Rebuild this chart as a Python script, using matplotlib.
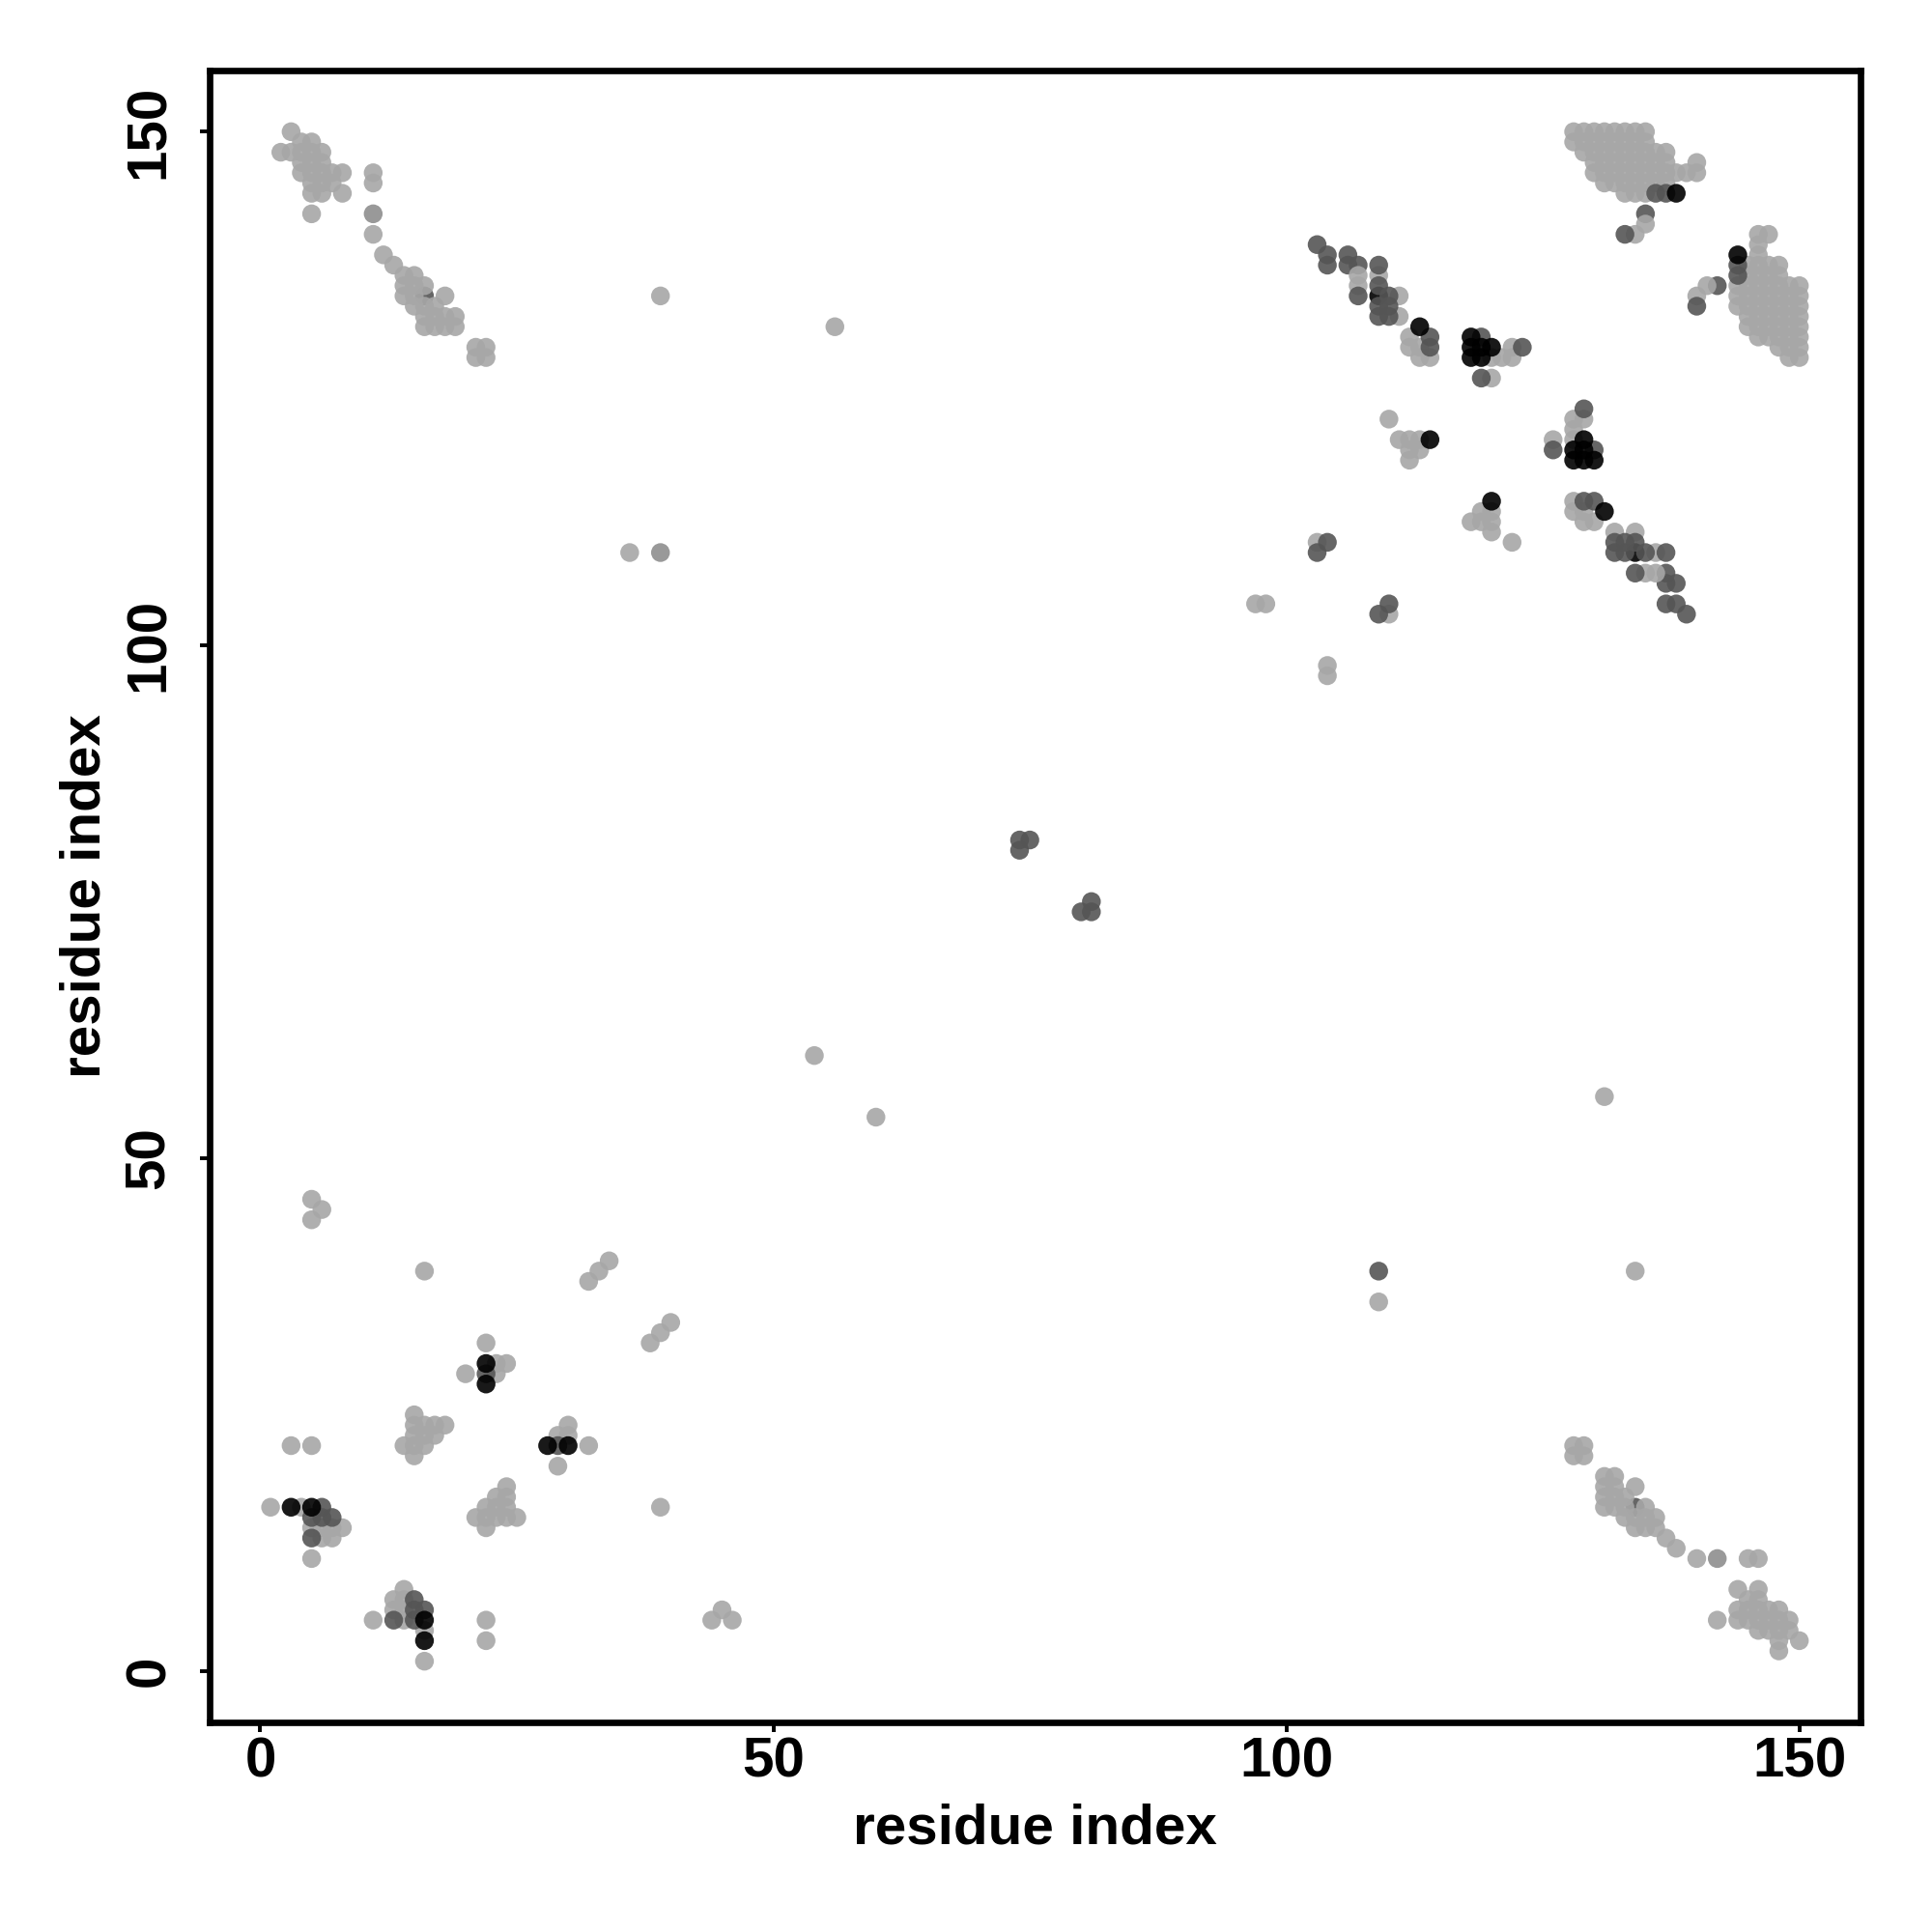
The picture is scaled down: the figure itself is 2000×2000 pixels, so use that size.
import matplotlib.pyplot as plt

# contact pairs (i < j): drawn at (i, j) above the diagonal and mirrored at (j, i)
# shade codes: L light grey, G mid-light grey, M dark grey, B black
top_left = [
    (3, 150, 'L'), (4, 149, 'L'), (5, 149, 'L'), (2, 148, 'L'), (3, 148, 'L'), (4, 148, 'L'),
    (5, 148, 'L'), (6, 148, 'L'), (4, 147, 'L'), (5, 147, 'L'), (6, 147, 'L'), (4, 146, 'L'),
    (5, 146, 'L'), (6, 146, 'L'), (7, 146, 'L'), (8, 146, 'L'), (5, 145, 'L'), (6, 145, 'L'),
    (7, 145, 'L'), (5, 144, 'L'), (6, 144, 'L'), (8, 144, 'L'), (5, 142, 'L'),
    (11, 146, 'L'), (11, 145, 'L'), (11, 142, 'G'), (11, 140, 'L'),
    (16, 134, 'M'), (12, 138, 'L'), (13, 137, 'L'), (14, 136, 'L'), (15, 136, 'L'), (14, 135, 'L'),
    (15, 135, 'L'), (16, 135, 'L'), (14, 134, 'L'), (15, 134, 'L'), (18, 134, 'L'), (15, 133, 'L'),
    (16, 133, 'L'), (17, 133, 'L'), (16, 132, 'L'), (17, 132, 'L'), (18, 132, 'L'), (19, 132, 'L'),
    (16, 131, 'L'), (17, 131, 'L'), (18, 131, 'L'), (19, 131, 'L'),
    (21, 129, 'L'), (22, 129, 'L'), (21, 128, 'L'), (22, 128, 'L'),
]

top_right_rows = {
    150: [128, 129, 130, 131, 132, 133, 134, 135],
    149: [128, 129, 130, 131, 132, 133, 134, 135],
    148: [129, 130, 131, 132, 133, 134, 135, 136, 137],
    147: [130, 131, 132, 133, 134, 135, 136, 137, 140],
    146: [130, 131, 132, 133, 134, 135, 136, 137, 138, 139, 140],
    145: [131, 132, 133, 134, 135, 136, 137],
    144: [133, 134, 135],
}
top_right_extra = [
    (136, 144, 'M'), (137, 144, 'M'), (138, 144, 'B'), (135, 142, 'M'),
    (135, 141, 'L'), (134, 140, 'L'), (133, 140, 'M'),
]

band = [
    (103, 139, 'M'), (104, 138, 'M'), (104, 137, 'M'), (106, 138, 'M'), (106, 137, 'M'),
    (107, 137, 'M'), (107, 136, 'L'), (107, 135, 'L'), (107, 134, 'M'),
    (109, 134, 'B'), (109, 136, 'L'), (111, 134, 'L'), (111, 132, 'L'),
    (109, 137, 'M'), (109, 135, 'M'), (109, 133, 'M'), (109, 132, 'M'),
    (110, 134, 'M'), (110, 133, 'M'), (110, 132, 'M'),
    (112, 130, 'L'), (112, 129, 'L'), (113, 129, 'L'), (113, 128, 'L'), (114, 128, 'L'),
    (114, 130, 'M'), (114, 129, 'M'), (113, 131, 'B'),
    (120, 128, 'L'), (121, 128, 'L'), (122, 129, 'L'), (122, 128, 'L'), (123, 129, 'M'),
    (119, 130, 'M'), (118, 130, 'B'), (118, 129, 'B'), (118, 128, 'B'),
    (119, 129, 'B'), (119, 128, 'B'), (120, 129, 'B'),
    (120, 126, 'L'), (119, 126, 'M'),
    (110, 122, 'L'), (111, 120, 'L'), (112, 120, 'L'), (113, 120, 'L'),
    (112, 119, 'L'), (113, 119, 'L'), (112, 118, 'L'), (114, 120, 'B'),
    (103, 110, 'L'), (104, 110, 'M'), (103, 109, 'M'),
    (97, 104, 'L'), (98, 104, 'L'),
]

scattered = [
    (39, 134, 'L'), (56, 131, 'L'), (36, 109, 'L'), (39, 109, 'G'), (54, 60, 'L'),
    (74, 81, 'M'), (75, 81, 'M'), (74, 80, 'M'),
]

bottom_left = [
    (5, 44, 'L'), (6, 45, 'L'), (5, 46, 'L'), (16, 39, 'L'),
    (32, 38, 'L'), (33, 39, 'L'), (34, 40, 'L'),
    (1, 16, 'L'), (4, 16, 'L'), (5, 14, 'L'), (6, 14, 'L'), (7, 14, 'L'), (8, 14, 'L'),
    (6, 13, 'L'), (7, 13, 'L'), (5, 11, 'L'), (3, 22, 'L'), (5, 22, 'L'),
    (6, 16, 'M'), (5, 15, 'M'), (6, 15, 'M'), (7, 15, 'M'), (5, 13, 'M'),
    (3, 16, 'B'), (5, 16, 'B'),
    (14, 22, 'L'), (15, 21, 'L'), (15, 22, 'L'), (16, 22, 'L'), (15, 23, 'L'), (16, 23, 'L'),
    (17, 23, 'L'), (15, 24, 'L'), (16, 24, 'L'), (17, 24, 'L'), (18, 24, 'L'), (15, 25, 'L'),
    (22, 32, 'L'), (20, 29, 'L'), (23, 30, 'L'), (24, 30, 'L'), (23, 29, 'L'),
    (22, 29, 'M'), (22, 30, 'B'), (22, 28, 'B'),
]

# mirrored points whose shade differs from the upper one
lower_shade = {(109, 39): 'M'}

shade_colors = {'L': '#a7a7a7', 'G': '#8e8e8e', 'M': '#555555', 'B': '#000000'}

pairs = list(top_left)
for y, row in top_right_rows.items():
    pairs += [(x, y, 'L') for x in row]
pairs += top_right_extra + band + scattered + bottom_left

xs, ys, cols = [], [], []
for i, j, s in pairs:
    xs.append(i); ys.append(j); cols.append(shade_colors[s])
for i, j, s in pairs:
    xs.append(j); ys.append(i); cols.append(shade_colors[lower_shade.get((j, i), s)])

plt.rcParams['font.family'] = ['Liberation Sans', 'DejaVu Sans']
plt.rcParams['font.weight'] = 'bold'

fig = plt.figure(figsize=(10, 10), dpi=200)
ax = fig.add_axes([0.1084, 0.1085, 0.8546, 0.855])
ax.scatter(xs, ys, s=49, c=cols, alpha=0.9, linewidths=0)

ax.set_xlim(-4.96, 155.96)
ax.set_ylim(-4.96, 155.96)
ticks = [0, 50, 100, 150]
ax.set_xticks(ticks)
ax.set_yticks(ticks)
for sp in ax.spines.values():
    sp.set_linewidth(2.4)
ax.tick_params(axis='both', direction='out', length=3.6, width=1.4, labelsize=21)
ax.tick_params(axis='x', pad=1.5)
ax.tick_params(axis='y', pad=9)
for lab in ax.get_yticklabels():
    lab.set_rotation(90)
    lab.set_va('center')

ax.set_xlabel('residue index', fontsize=21, fontweight='bold')
ax.set_ylabel('residue index', fontsize=21, fontweight='bold')
ax.xaxis.set_label_coords(0.5, -0.049)
ax.yaxis.set_label_coords(-0.059, 0.5)

fig.savefig('out.png', dpi=200, facecolor='white')
